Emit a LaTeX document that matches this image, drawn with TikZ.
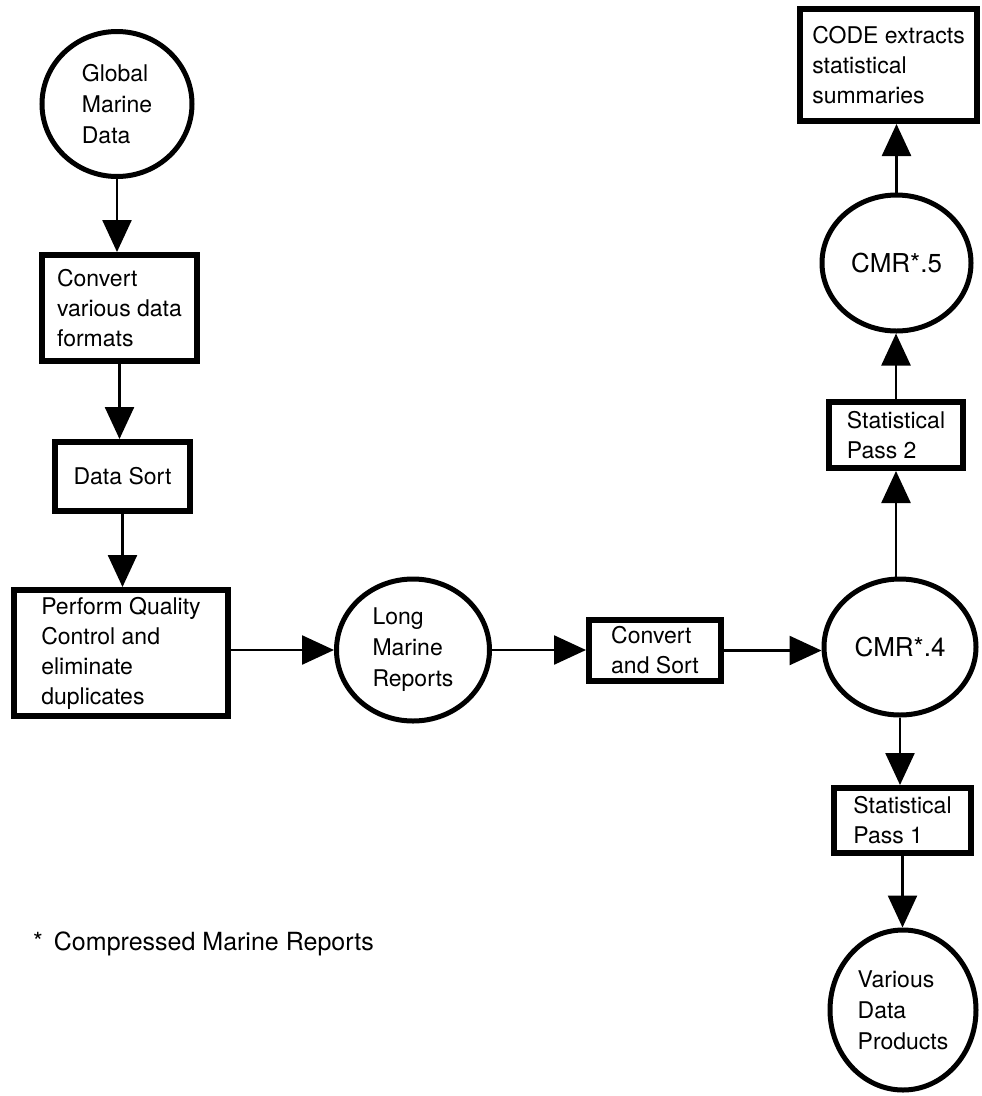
\documentclass[tikz,border=0pt]{standalone}
\usepackage{fontspec}
\setmainfont{TeX Gyre Heros}
\usetikzlibrary{arrows.meta,shapes.geometric}
\begin{document}
\begin{tikzpicture}[x=1pt,y=1pt,
  proc/.style={draw, line width=6pt, rectangle, inner sep=0pt, align=left,
    font=\fontsize{23}{30}\selectfont},
  store/.style={draw, line width=5pt, ellipse, inner sep=0pt, align=left,
    font=\fontsize{23}{31}\selectfont},
  cmr/.style={store, font=\fontsize{26}{31}\selectfont},
  flow/.style={line width=2.5pt, -{Triangle[length=32pt,width=29pt]}}]
\useasboundingbox (0,0) rectangle (982,-1096);
\fill[white] (0,0) rectangle (982,-1096);
% left column
\node[store, minimum width=150, minimum height=145] (gmd) at (117,-104) {Global\\Marine\\Data};
\node[proc, minimum width=155, minimum height=106] (conv) at (119.5,-308) {Convert\\various data\\formats};
\node[proc, minimum width=135, minimum height=69] (sort) at (122.5,-476.5) {Data Sort};
\node[proc, minimum width=214, minimum height=126] (qc) at (121,-653) {Perform Quality\\Control and\\eliminate\\duplicates};
% middle
\node[store, minimum width=153, minimum height=142] (lmr) at (413,-650) {Long\\Marine\\Reports};
\node[proc, minimum width=132, minimum height=61] (cs) at (655,-650.5) {Convert\\and Sort};
% right column
\node[cmr, minimum width=152, minimum height=136] (cmr4) at (900,-647) {CMR*.4};
\node[proc, minimum width=137, minimum height=65] (sp1) at (902.5,-820.5) {Statistical\\Pass 1};
\node[store, minimum width=146, minimum height=160] (vdp) at (903,-1010) {Various\\Data\\Products};
\node[proc, minimum width=134, minimum height=66] (sp2) at (896,-435) {Statistical\\Pass 2};
\node[cmr, minimum width=149, minimum height=136] (cmr5) at (896.5,-263) {CMR*.5};
\node[proc, minimum width=177, minimum height=112] (code) at (888.5,-65) {CODE extracts\\statistical\\summaries};
% footnote
\node[anchor=base west, inner sep=0pt, font=\fontsize{25}{30}\selectfont] (note) at (33,-950) {*\hspace{11pt}Compressed Marine Reports};
% connectors
\draw[flow] (gmd.south) -- (gmd.south |- conv.north);
\draw[flow] (conv.south) -- (conv.south |- sort.north);
\draw[flow] (sort.south) -- (sort.south |- qc.north);
\draw[flow] (lmr.west -| qc.east) -- (lmr.west);
\draw[flow] (lmr.east) -- (lmr.east -| cs.west);
\draw[flow] (cs.east) -- (cs.east -| cmr4.west);
\draw[flow] (sp2.south |- cmr4.north) -- (sp2.south);
\draw[flow] (sp2.north) -- (sp2.north |- cmr5.south);
\draw[flow] (cmr5.north) -- (cmr5.north |- code.south);
\draw[flow] (cmr4.south) -- (cmr4.south |- sp1.north);
\draw[flow] (sp1.south) -- (sp1.south |- vdp.north);
\end{tikzpicture}
\end{document}
